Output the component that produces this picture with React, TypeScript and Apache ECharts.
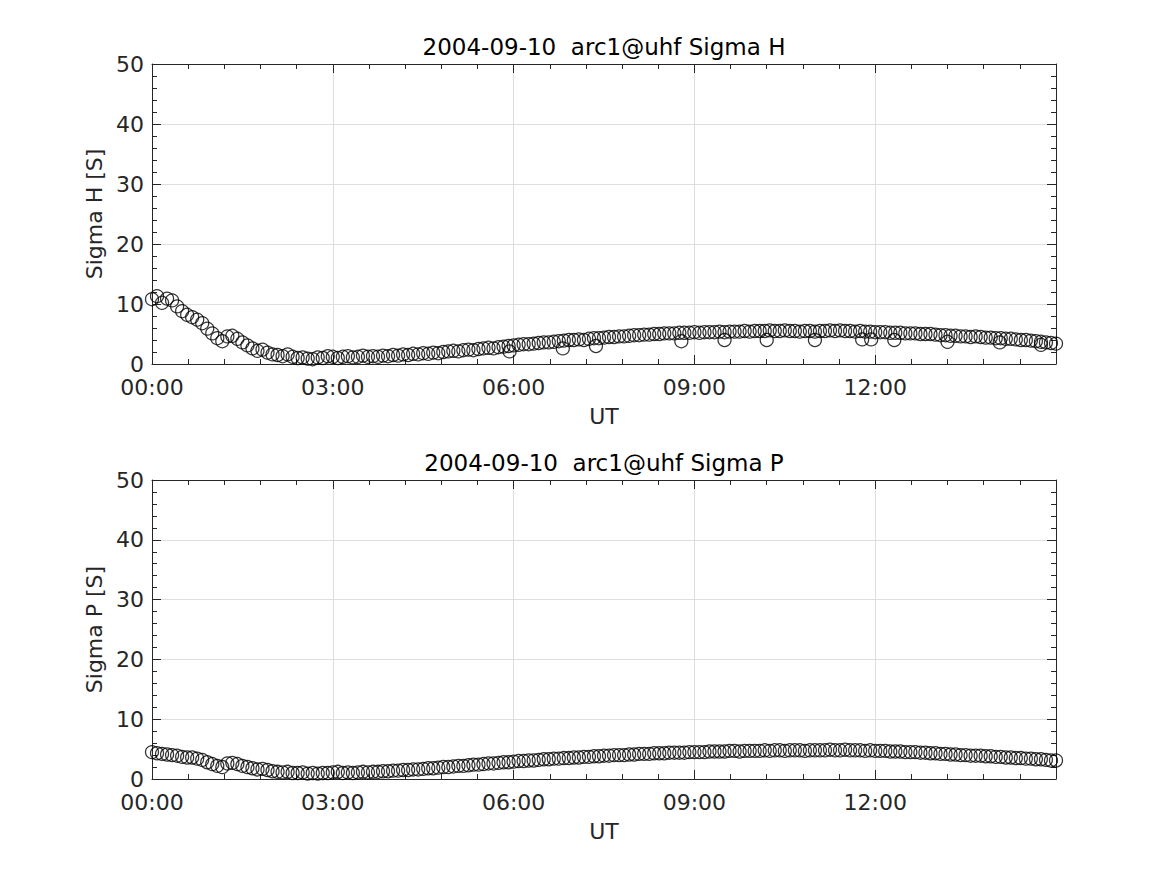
import React, { useEffect, useRef } from "react";
import * as echarts from "echarts";

// Time grid: minutes after 00:00 UT, every 5 minutes
const timesMin: number[] = [
  0, 5, 10, 15, 20, 25, 30, 35, 40, 45, 50, 55, 60,
  65, 70, 75, 80, 85, 90, 95, 100, 105, 110, 115, 120,
  125, 130, 135, 140, 145, 150, 155, 160, 165, 170, 175, 180,
  185, 190, 195, 200, 205, 210, 215, 220, 225, 230, 235, 240,
  245, 250, 255, 260, 265, 270, 275, 280, 285, 290, 295, 300,
  305, 310, 315, 320, 325, 330, 335, 340, 345, 350, 355, 360,
  365, 370, 375, 380, 385, 390, 395, 400, 405, 410, 415, 420,
  425, 430, 435, 440, 445, 450, 455, 460, 465, 470, 475, 480,
  485, 490, 495, 500, 505, 510, 515, 520, 525, 530, 535, 540,
  545, 550, 555, 560, 565, 570, 575, 580, 585, 590, 595, 600,
  605, 610, 615, 620, 625, 630, 635, 640, 645, 650, 655, 660,
  665, 670, 675, 680, 685, 690, 695, 700, 705, 710, 715, 720,
  725, 730, 735, 740, 745, 750, 755, 760, 765, 770, 775, 780,
  785, 790, 795, 800, 805, 810, 815, 820, 825, 830, 835, 840,
  845, 850, 855, 860, 865, 870, 875, 880, 885, 890, 895, 900,
];

const sigmaH: number[] = [
  10.8, 11.3, 10.2, 10.9, 10.6, 9.6, 8.8, 8.2, 7.8, 7.4, 6.8, 5.9, 5.1,
  4.3, 3.8, 4.6, 4.7, 4.2, 3.6, 3.1, 2.6, 2.2, 2.4, 1.9, 1.6,
  1.5, 1.3, 1.6, 1.2, 1.0, 1.1, 0.9, 0.8, 1.1, 1.0, 1.3, 1.2,
  1.0, 1.2, 1.3, 1.1, 1.2, 1.4, 1.2, 1.3, 1.2, 1.4, 1.3, 1.5,
  1.4, 1.6, 1.5, 1.7, 1.6, 1.8, 1.7, 1.9, 1.8, 2.0, 2.1, 2.2,
  2.1, 2.3, 2.4, 2.3, 2.5, 2.6, 2.7, 2.6, 2.8, 2.9, 3.0, 3.1,
  3.2, 3.3, 3.3, 3.4, 3.5, 3.6, 3.6, 3.7, 3.8, 3.9, 4.0, 4.0,
  4.1, 4.0, 4.2, 4.3, 4.3, 4.4, 4.5, 4.5, 4.6, 4.6, 4.7, 4.8,
  4.8, 4.9, 4.9, 5.0, 5.0, 5.1, 5.1, 5.1, 5.2, 5.2, 5.2, 5.3,
  5.2, 5.3, 5.3, 5.3, 5.4, 5.3, 5.4, 5.4, 5.4, 5.5, 5.4, 5.5,
  5.5, 5.5, 5.6, 5.5, 5.5, 5.6, 5.5, 5.5, 5.4, 5.5, 5.5, 5.4,
  5.5, 5.5, 5.6, 5.5, 5.6, 5.5, 5.5, 5.4, 5.5, 5.4, 5.4, 5.3,
  5.3, 5.3, 5.2, 5.2, 5.2, 5.1, 5.1, 5.1, 5.0, 5.0, 5.0, 4.9,
  4.8, 4.8, 4.7, 4.7, 4.6, 4.6, 4.5, 4.6, 4.5, 4.4, 4.4, 4.3,
  4.3, 4.2, 4.2, 4.1, 4.0, 4.0, 3.9, 3.8, 3.7, 3.6, 3.5, 3.4,
];

// Scattered lower points in Sigma H
const sigmaHOutlierTimes: number[] = [356, 409, 442, 527, 570, 612, 660, 707, 716, 739, 792, 844, 885];
const sigmaHOutlierValues: number[] = [2.1, 2.6, 3.0, 3.8, 4.0, 4.0, 4.0, 4.1, 4.1, 4.0, 3.7, 3.6, 3.2];

const sigmaP: number[] = [
  4.5, 4.3, 4.2, 4.1, 4.0, 3.9, 3.7, 3.6, 3.6, 3.4, 3.2, 2.8, 2.5,
  2.2, 2.0, 2.6, 2.7, 2.5, 2.2, 2.0, 1.8, 1.6, 1.7, 1.5, 1.3,
  1.2, 1.1, 1.2, 1.0, 1.0, 1.1, 0.9, 1.0, 0.9, 1.0, 1.0, 1.1,
  1.2, 1.0, 1.1, 1.0, 1.1, 1.2, 1.1, 1.2, 1.2, 1.3, 1.3, 1.4,
  1.4, 1.5, 1.5, 1.6, 1.6, 1.7, 1.8, 1.8, 1.9, 2.0, 2.0, 2.1,
  2.2, 2.2, 2.3, 2.4, 2.4, 2.5, 2.6, 2.6, 2.7, 2.8, 2.8, 2.9,
  3.0, 3.0, 3.1, 3.1, 3.2, 3.3, 3.3, 3.4, 3.4, 3.5, 3.5, 3.6,
  3.6, 3.7, 3.7, 3.8, 3.8, 3.9, 3.9, 4.0, 4.0, 4.0, 4.1, 4.1,
  4.2, 4.2, 4.2, 4.3, 4.3, 4.3, 4.4, 4.4, 4.4, 4.4, 4.5, 4.5,
  4.5, 4.5, 4.6, 4.6, 4.6, 4.6, 4.7, 4.7, 4.6, 4.7, 4.7, 4.7,
  4.7, 4.8, 4.7, 4.8, 4.8, 4.7, 4.8, 4.8, 4.8, 4.7, 4.8, 4.8,
  4.8, 4.8, 4.9, 4.8, 4.8, 4.9, 4.8, 4.8, 4.8, 4.7, 4.8, 4.7,
  4.7, 4.7, 4.6, 4.6, 4.6, 4.5, 4.5, 4.5, 4.4, 4.4, 4.3, 4.3,
  4.2, 4.2, 4.1, 4.1, 4.0, 4.0, 3.9, 3.9, 3.9, 3.8, 3.8, 3.7,
  3.7, 3.6, 3.6, 3.5, 3.5, 3.4, 3.4, 3.3, 3.3, 3.2, 3.1, 3.1,
];

const titles: string[] = ["2004-09-10  arc1@uhf Sigma H", "2004-09-10  arc1@uhf Sigma P"];
const yNames: string[] = ["Sigma H [S]", "Sigma P [S]"];
const xName = "UT";

const FONT = "DejaVu Sans";
const AX = "#262626";
const GRIDC = "#dedede";

function fmtTime(v: number): string {
  const h = Math.round(v / 60);
  return (h < 10 ? "0" : "") + h + ":00";
}

export default function App() {
  const ref = useRef<HTMLDivElement>(null);
  useEffect(() => {
    document.body.style.margin = "0";
    if (!ref.current) return;
    const chart = echarts.init(ref.current, undefined, { renderer: "svg" });

    const grids = [
      { left: 152, top: 64, width: 904, height: 300 },
      { left: 152, top: 480, width: 904, height: 299 },
    ];

    const lineCommon = { show: true, onZero: false, lineStyle: { color: AX, width: 1 } };
    const tickCommon = { show: true, inside: true, length: 9, lineStyle: { color: AX, width: 1 } };
    const minorCommon = { show: true, splitNumber: 5, length: 5, lineStyle: { color: AX, width: 1 } };

    const xAxes: any[] = [];
    const yAxes: any[] = [];
    grids.forEach((_, g) => {
      xAxes.push({
        type: "value", gridIndex: g, position: "bottom", min: 0, max: 900, interval: 180,
        name: xName, nameLocation: "middle", nameGap: 41,
        nameTextStyle: { fontFamily: FONT, fontSize: 22, color: AX },
        axisLine: lineCommon,
        axisTick: tickCommon,
        minorTick: minorCommon,
        axisLabel: { formatter: fmtTime, fontFamily: FONT, fontSize: 22, color: AX, margin: 12, showMaxLabel: false },
        splitLine: { show: true, lineStyle: { color: GRIDC, width: 1 } },
      });
      xAxes.push({
        type: "value", gridIndex: g, position: "top", min: 0, max: 900, interval: 180,
        axisLine: lineCommon,
        axisTick: tickCommon,
        minorTick: minorCommon,
        axisLabel: { show: false },
        splitLine: { show: false },
      });
      yAxes.push({
        type: "value", gridIndex: g, position: "left", min: 0, max: 50, interval: 10,
        name: yNames[g], nameLocation: "middle", nameGap: 43, nameRotate: 90,
        nameTextStyle: { fontFamily: FONT, fontSize: 22, color: AX },
        axisLine: lineCommon,
        axisTick: tickCommon,
        minorTick: minorCommon,
        axisLabel: { fontFamily: FONT, fontSize: 22, color: AX, margin: 8 },
        splitLine: { show: true, lineStyle: { color: GRIDC, width: 1 } },
      });
      yAxes.push({
        type: "value", gridIndex: g, position: "right", min: 0, max: 50, interval: 10,
        axisLine: lineCommon,
        axisTick: tickCommon,
        minorTick: minorCommon,
        axisLabel: { show: false },
        splitLine: { show: false },
      });
    });

    const marker = {
      type: "scatter",
      symbol: "circle",
      symbolSize: 13,
      itemStyle: { color: "rgba(0,0,0,0)", borderColor: "#000", borderWidth: 1.25 },
      silent: true,
    };

    const hData = timesMin.map((t, i) => [t, sigmaH[i]]);
    const hOut = sigmaHOutlierTimes.map((t, i) => [t, sigmaHOutlierValues[i]]);
    const pData = timesMin.map((t, i) => [t, sigmaP[i]]);

    chart.setOption({
      animation: false,
      backgroundColor: "#ffffff",
      title: titles.map((t, i) => ({
        text: t,
        left: 599,
        textAlign: "center",
        top: i === 0 ? 30 : 446,
        textStyle: { fontFamily: FONT, fontSize: 23, fontWeight: "normal", color: "#000" },
      })),
      grid: grids,
      xAxis: xAxes,
      yAxis: yAxes,
      series: [
        { ...marker, xAxisIndex: 0, yAxisIndex: 0, data: hData },
        { ...marker, xAxisIndex: 0, yAxisIndex: 0, data: hOut },
        { ...marker, xAxisIndex: 2, yAxisIndex: 2, data: pData },
      ],
    });
    return () => chart.dispose();
  }, []);
  return (
    <div
      ref={ref}
      style={{ position: "absolute", left: 0, top: 0, width: 1167, height: 875, background: "#fff" }}
    />
  );
}
